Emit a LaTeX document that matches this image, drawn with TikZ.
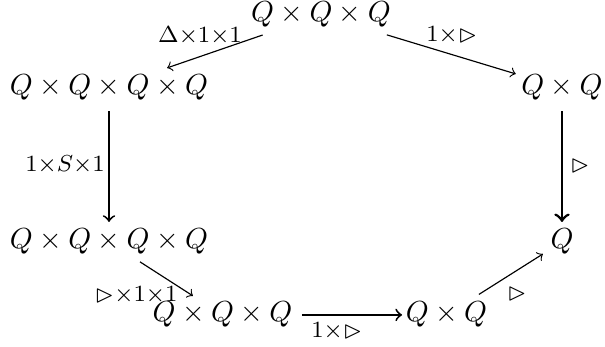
\documentclass[tikz,border=0pt]{standalone}
\usepackage{amssymb}
\begin{document}
\begin{tikzpicture}[x=0.3448pt,y=-0.3448pt,
  obj/.style={inner sep=0pt,outer sep=0pt,anchor=base},
  lab/.style={inner sep=0pt,outer sep=0pt,font=\fontsize{7.6}{9}\selectfont},
  arr/.style={->,line width=0.4pt},
  thickarr/.style={->,line width=0.65pt},
  thickerarr/.style={->,line width=0.95pt}]
\useasboundingbox (0,0) rectangle (605,347);
% objects
\node[obj] (n0) at (321,22)  {$Q\times Q\times Q$};
\node[obj] (n1) at (109,95)  {$Q\times Q\times Q\times Q$};
\node[obj] (n2) at (562,95)  {$Q\times Q$};
\node[obj] (n3) at (109,249) {$Q\times Q\times Q\times Q$};
\node[obj] (n4) at (562,249) {$Q$};
\node[obj] (n5) at (222.5,322) {$Q\times Q\times Q$};
\node[obj] (n6) at (446.5,322) {$Q\times Q$};
% arrows
\draw[arr,shorten <=7.8pt,shorten >=7.7pt] (n0) -- (n1);
\draw[arr,shorten <=8.6pt,shorten >=2pt] (n0) -- (n2);
\draw[thickarr,shorten <=3.6pt,shorten >=2.5pt] (n1) -- (n3);
\draw[thickerarr,shorten <=3.6pt,shorten >=2.5pt] (n2) -- (n4);
\draw[arr,shorten <=4.6pt,shorten >=4pt] (n3) -- (n5);
\draw[thickarr,shorten <=3.3pt,shorten >=1.3pt] (n5) -- (n6);
\draw[arr,shorten <=5pt,shorten >=3.1pt] (n6) -- (n4);
% labels
\node[lab] (l01) at (200,36)  {$\Delta{\times}1{\times}1$};
\node[lab] (l02) at (452,35)  {$1{\times}{\vartriangleright}$};
\node[lab] (l13) at (65,165)  {$1{\times}S{\times}1$};
\node[lab] (l24) at (580,166) {${\vartriangleright}$};
\node[lab] (l35) at (136,295) {${\vartriangleright}{\times}1{\times}1$};
\node[lab] (l56) at (337,331) {$1{\times}{\vartriangleright}$};
\node[lab] (l64) at (517,294) {${\vartriangleright}$};
\end{tikzpicture}
\end{document}
